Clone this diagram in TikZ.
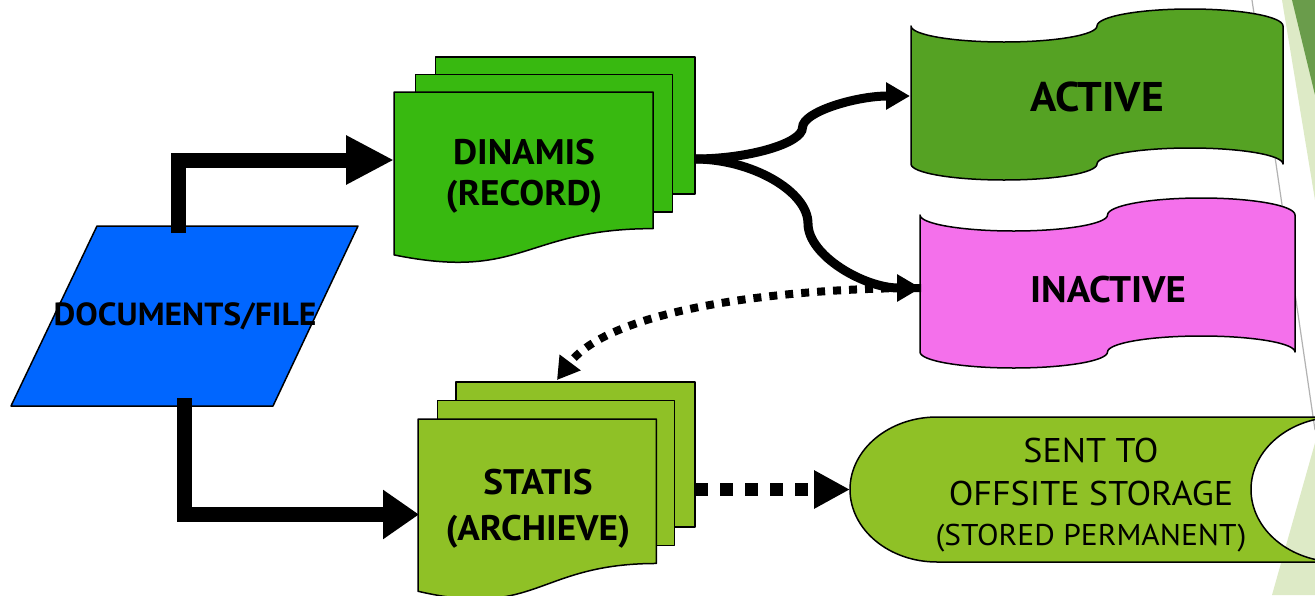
\documentclass[tikz,border=0pt]{standalone}
\usepackage{fontspec}
\setmainfont{PT Sans}[FakeStretch=1.05]
\usetikzlibrary{arrows.meta,calc}

\definecolor{docblue}{HTML}{0066FF}
\definecolor{dingreen}{HTML}{38B910}
\definecolor{actgreen}{HTML}{55A223}
\definecolor{inpink}{HTML}{F470EB}
\definecolor{statgreen}{HTML}{8FC126}
\definecolor{bglight}{HTML}{DDEAC6}
\definecolor{bgdark}{HTML}{6A9C4B}

% stacked documents: x, y (top-left), width, height, fill colour
\newcommand\multidocshape[5]{%
  \begin{scope}[shift={(#1,#2)}, x={(#3pt,0pt)}, y={(0pt,-#4pt)}]
    \filldraw[shapeline, fill=#5] (0.13759,0) rectangle (1,0.66630);
    \filldraw[shapeline, fill=#5] (0.07093,0.08403) rectangle (0.92593,0.75241);
    \filldraw[shapeline, fill=#5] (0,0.17014) -- (0.86088,0.17014) -- (0.86088,0.83435)
      .. controls (0.43046,0.83435) and (0.43046,1.08991) .. (0,0.96213) -- cycle;
  \end{scope}}

\tikzset{
  shapeline/.style={draw=black, line width=1.5pt, line join=round},
  boldlbl/.style={inner sep=0pt, align=center, text=black},
  bigarrow/.style={line width=15pt, line join=miter, -{Triangle[length=48pt,width=46pt]}},
  bigarrowb/.style={line width=15pt, line join=miter, -{Triangle[length=36pt,width=47pt]}},
  curvearrow/.style={line width=9pt, -{Triangle[length=24pt,width=26pt]}},
  dotarrow/.style={line width=8pt, dash pattern=on 8pt off 8pt, -{Triangle[length=22pt,width=25pt]}},
  squarearrow/.style={line width=12.5pt, dash pattern=on 12.5pt off 12.5pt, -{Triangle[length=36pt,width=36pt]}},
}

\begin{document}
\begin{tikzpicture}[x=1pt,y=-1pt]
\useasboundingbox (0,0) rectangle (1315,595);
\fill[white] (0,0) rectangle (1315,595);

% theme decoration on the right edge
\fill[bglight] (1282,0) -- (1315,0) -- (1315,200) -- cycle;
\fill[bgdark] (1292,0) -- (1315,0) -- (1315,95) -- cycle;
\draw[black!30, line width=1.2pt] (1252,0) -- (1315,430);
\fill[bglight] (1315,443) -- (1315,595) -- (1272,595) -- cycle;

% documents / file
\filldraw[shapeline, fill=docblue] (97,226) -- (358,226) -- (273,406) -- (11,406) -- cycle;
\node[boldlbl, font=\bfseries\fontsize{32}{38}\selectfont] (doc) at (185,316) {DOCUMENTS/FILE};

% dynamic records
\multidocshape{394}{57}{301}{205.7}{dingreen}
\node[boldlbl, font=\bfseries\fontsize{35.5}{41}\selectfont] (dinamis) at (524,176) {DINAMIS\\(RECORD)};

% static archive
\multidocshape{418}{382}{277}{217.5}{statgreen}
\node[boldlbl, font=\bfseries\fontsize{35.5}{46}\selectfont] (statis) at (538,509) {STATIS\\(ARCHIEVE)};

% active
\filldraw[shapeline, fill=actgreen] (911,26)
  arc[start angle=180, end angle=0, x radius=93, y radius=16]
  arc[start angle=180, end angle=360, x radius=93, y radius=17]
  -- (1283,164)
  arc[start angle=0, end angle=-180, x radius=93, y radius=16]
  arc[start angle=0, end angle=180, x radius=93, y radius=16]
  -- cycle;
\node[boldlbl, font=\bfseries\fontsize{41.5}{48}\selectfont] (active) at (1097,97) {ACTIVE};

% inactive
\filldraw[shapeline, fill=inpink] (920,215)
  arc[start angle=180, end angle=0, x radius=93.75, y radius=16]
  arc[start angle=180, end angle=360, x radius=93.75, y radius=17]
  -- (1295,352)
  arc[start angle=0, end angle=-180, x radius=93.75, y radius=16]
  arc[start angle=0, end angle=180, x radius=93.75, y radius=16]
  -- cycle;
\node[boldlbl, font=\bfseries\fontsize{37}{46}\selectfont] (inactive) at (1108,290) {INACTIVE};

% offsite storage
\filldraw[shapeline, fill=statgreen] (1338,417) -- (937,417)
  arc[start angle=270, end angle=90, x radius=87, y radius=72.5]
  -- (1338,562)
  arc[start angle=90, end angle=270, x radius=87, y radius=72.5]
  -- cycle;
\node[inner sep=0pt, align=center, font=\fontsize{34.3}{43}\selectfont] (sent) at (1091,495)
  {SENT TO\\OFFSITE STORAGE\\[-3pt]{\fontsize{30}{34}\selectfont (STORED PERMANENT)}};

% connection points
\coordinate (doc-n) at (178,233);
\coordinate (doc-s) at (184,398);
\coordinate (din-w) at (394,160);
\coordinate (din-e) at (695,159);
\coordinate (stat-w) at (419,514.5);
\coordinate (stat-e) at (695,489.5);
\coordinate (stat-n) at (557,380);
\coordinate (act-w) at (910,96);
\coordinate (inact-w) at (921,288);
\coordinate (sent-w) at (850,489.5);

% connectors
\draw[bigarrow] (doc-n) |- (din-w);
\draw[bigarrowb] (doc-s) |- (stat-w);

\draw[curvearrow] let \p1=(din-e), \p2=(act-w) in
  (\p1) .. controls ({(3*\x1+\x2)/4},\y1) and ({(\x1+\x2)/2},{(3*\y1+\y2)/4})
  .. ({(\x1+\x2)/2},{(\y1+\y2)/2})
  .. controls ({(\x1+\x2)/2},{(\y1+3*\y2)/4}) and ({(\x1+3*\x2)/4},\y2) .. (\p2);
\draw[curvearrow] let \p1=(din-e), \p2=(inact-w) in
  (\p1) .. controls ({(3*\x1+\x2)/4},\y1) and ({(\x1+\x2)/2},{(3*\y1+\y2)/4})
  .. ({(\x1+\x2)/2},{(\y1+\y2)/2})
  .. controls ({(\x1+\x2)/2},{(\y1+3*\y2)/4}) and ({(\x1+3*\x2)/4},\y2) .. (\p2);

\draw[dotarrow] let \p1=(inact-w), \p2=(stat-n) in
  (\p1) .. controls ({\x1-0.386*(\x1-\x2)},\y1) and ({\x2+0.146*(\x1-\x2)},{\y1+0.23*(\y2-\y1)}) .. (\p2);

\draw[squarearrow] (stat-e) -- (sent-w);
\end{tikzpicture}
\end{document}
